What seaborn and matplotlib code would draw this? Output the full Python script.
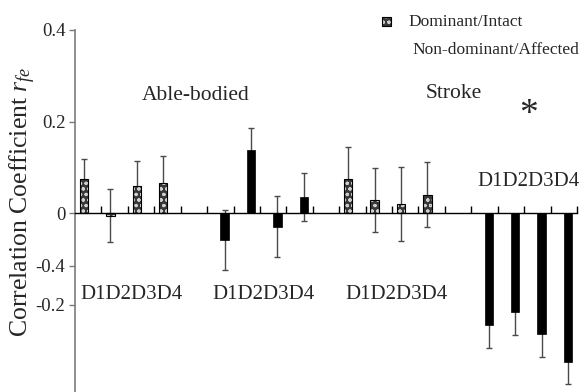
import numpy as np
import pandas as pd
import matplotlib
matplotlib.use("Agg")
import matplotlib.pyplot as plt
from matplotlib.patches import Rectangle
import seaborn as sns

# ---------------- data ----------------
groups = ["Able-bodied", "Stroke"]
digits = ["D1", "D2", "D3", "D4"]
hue_levels = ["Dominant/Intact", "Non-dominant/Affected"]

able_dom = [0.075, -0.005, 0.060, 0.066]
able_dom_err = [0.043, 0.057, 0.055, 0.060]
able_nondom = [-0.058, 0.138, -0.029, 0.035]
able_nondom_err = [0.065, 0.049, 0.066, 0.052]
stroke_dom = [0.074, 0.029, 0.020, 0.041]
stroke_dom_err = [0.071, 0.069, 0.080, 0.070]
stroke_nondom = [-0.244, -0.216, -0.264, -0.325]
stroke_nondom_err = [0.049, 0.050, 0.049, 0.047]

ytick_pos = [0.4, 0.2, 0.0, -0.115, -0.2]
ytick_labels = ["0.4", "0.2", "0", "-0.4", "-0.2"]

# ---------------- build table ----------------
blocks = [
    ("A", hue_levels[0], able_dom, able_dom_err),
    ("A", hue_levels[1], able_nondom, able_nondom_err),
    ("S", hue_levels[0], stroke_dom, stroke_dom_err),
    ("S", hue_levels[1], stroke_nondom, stroke_nondom_err),
]
slots = []
rows = []
for bi, (g, h, vals, errs) in enumerate(blocks):
    if bi > 0:
        slots.append(f"gap{bi}")
    for d, v, e in zip(digits, vals, errs):
        name = f"{g}-{h[:3]}-{d}"
        slots.append(name)
        rows.append({"slot": name, "hand": h, "r": v, "err": e})
df = pd.DataFrame(rows)

# ---------------- figure ----------------
sns.set_theme(style="white")
plt.rcParams["font.family"] = ["Liberation Serif", "DejaVu Serif"]
plt.rcParams["mathtext.fontset"] = "custom"
plt.rcParams["mathtext.rm"] = "Liberation Serif"
plt.rcParams["mathtext.it"] = "Liberation Serif:italic"
plt.rcParams["hatch.linewidth"] = 0.8

W, H = 580, 392
fig = plt.figure(figsize=(W / 100, H / 100), dpi=100)
ax = fig.add_axes([75 / W, 0.0, (577 - 75) / W, (392 - 30) / H])

ax = sns.barplot(data=df, x="slot", y="r", hue="hand", order=slots,
                 hue_order=hue_levels, dodge=True, width=0.64, gap=0,
                 errorbar=None, legend=False, ax=ax,
                 palette={hue_levels[0]: "#2b2b2b", hue_levels[1]: "black"})

DOM_FACE = "#383838"
DOM_HATCH = "#d0d0d0"

# style bars and add error bars from library positions
for cont, h in zip(ax.containers, hue_levels):
    sub = df[df["hand"] == h].copy()
    sub["order"] = sub["slot"].map({s: i for i, s in enumerate(slots)})
    sub = sub.sort_values("order")
    for patch, (_, row) in zip(cont.patches, sub.iterrows()):
        xc = patch.get_x() + patch.get_width() / 2
        patch.set_zorder(5)
        if h == hue_levels[0]:
            patch.set_facecolor(DOM_FACE)
            patch.set_edgecolor(DOM_HATCH)
            patch.set_hatch("ooo")
            patch.set_linewidth(0)
            outline = Rectangle((patch.get_x(), patch.get_y()), patch.get_width(),
                                patch.get_height(), fill=False, edgecolor="black",
                                linewidth=0.8, zorder=6)
            ax.add_patch(outline)
        else:
            patch.set_facecolor("black")
            patch.set_edgecolor("black")
            patch.set_linewidth(0.5)
        eb = ax.errorbar(xc, row["r"], yerr=row["err"], fmt="none",
                         ecolor="#4a4a4a", elinewidth=1.0, capsize=2.5,
                         capthick=1.0, zorder=1)
        for cl in eb[1]:
            cl.set_color("black")
            cl.set_zorder(1)
        for bl in eb[2]:
            bl.set_zorder(1)

ax.set_xlim(-0.5, len(slots) - 0.5)
ax.set_ylim(-0.39, 0.4)

# axes styling
for s in ["top", "right"]:
    ax.spines[s].set_visible(False)
ax.spines["left"].set_color("#7a7a7a")
ax.spines["left"].set_linewidth(1.2)
ax.spines["bottom"].set_position(("data", 0))
ax.spines["bottom"].set_color("black")
ax.spines["bottom"].set_linewidth(1.0)
ax.spines["bottom"].set_zorder(7)

ax.set_xticks(np.arange(0.5, len(slots), 1.0))
ax.set_xticklabels([])
ax.tick_params(axis="x", direction="in", length=5, width=1, color="black",
               bottom=True)
ax.set_yticks(ytick_pos)
ax.set_yticklabels(ytick_labels, fontsize=13.5)
ax.tick_params(axis="y", direction="out", length=4, width=1, color="#7a7a7a",
               left=True, pad=3)
ax.set_xlabel("")
ax.set_ylabel("")

fig.text(23 / W, 1 - 202 / H, r"Correlation Coefficient $r_{fe}$", rotation=90,
         ha="center", va="center", fontsize=18.5)

# group titles and digit labels
ax.text(4.08, 0.256, groups[0], ha="center", va="center", fontsize=15.5)
ax.text(13.82, 0.262, groups[1], ha="center", va="center", fontsize=15.5)
ax.text(16.65, 0.215, "*", ha="center", va="center", fontsize=27)

dlabel = "".join(digits)
group_centers = [1.5, 6.5, 11.5, 16.5]
group_y = [-0.177, -0.177, -0.177, 0.069]
for gc, gy in zip(group_centers, group_y):
    ax.text(gc + 0.15, gy, dlabel, ha="center", va="center", fontsize=15)

# legend
sq = 9
x0, y0 = (386.7 - sq / 2) / W, 1 - (21.7 + sq / 2) / H
fig.patches.append(Rectangle((x0, y0), sq / W, sq / H,
                             transform=fig.transFigure, facecolor=DOM_FACE,
                             edgecolor=DOM_HATCH, hatch="ooo", linewidth=0))
fig.patches.append(Rectangle((x0, y0), sq / W, sq / H,
                             transform=fig.transFigure, fill=False,
                             edgecolor="black", linewidth=0.8))
fig.text(408 / W, 1 - 22 / H, hue_levels[0], ha="left", va="center", fontsize=12.5)
fig.text(412.7 / W, 1 - 50 / H, hue_levels[1], ha="left", va="center", fontsize=12.5)

fig.savefig("out.png", dpi=100)
